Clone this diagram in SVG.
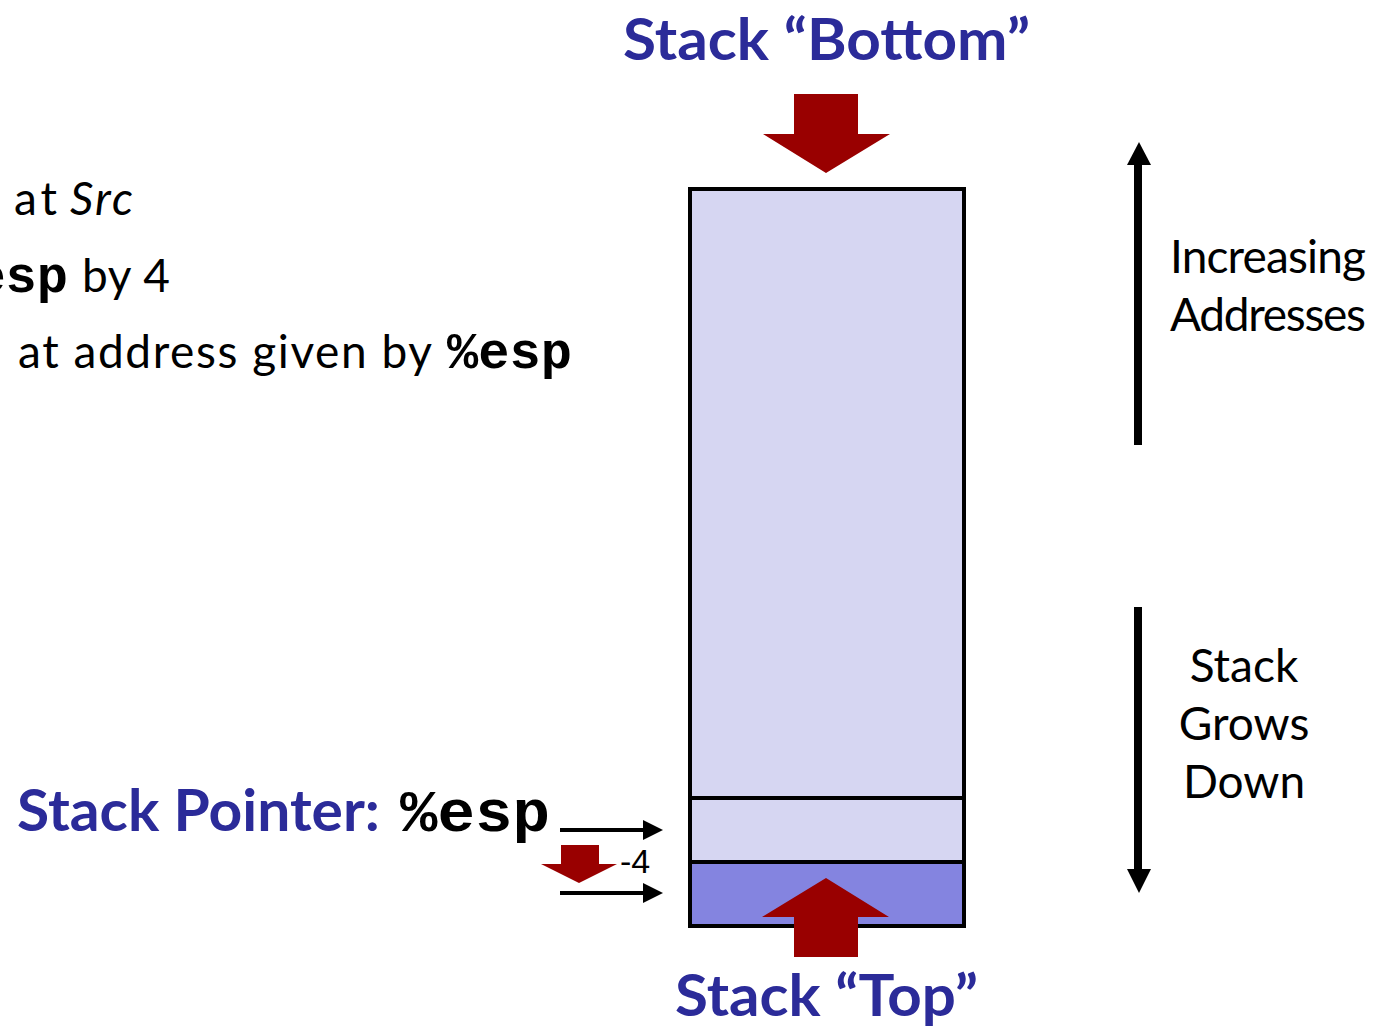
<svg xmlns="http://www.w3.org/2000/svg" width="1374" height="1026" viewBox="0 0 1374 1026">
  <defs>
    <style>
      .title { font-family: Lato, "Open Sans", "Liberation Sans", sans-serif; font-weight: bold; fill: #2b2b99; }
      .body { font-family: Lato, "Open Sans", "Liberation Sans", sans-serif; font-size: 46px; fill: #000; }
      .mono { font-family: "Liberation Mono", "Courier New", monospace; font-weight: bold; fill: #000; }
      .cell { stroke: #000; stroke-width: 4; }
      .red { fill: #990000; }
      .ptr { stroke: #000; stroke-width: 4; fill: none; marker-end: url(#ah); }
      .vline { stroke: #000; stroke-width: 8; fill: none; }
    </style>
    <marker id="ah" markerWidth="5" markerHeight="5" refX="2" refY="2.5" orient="auto" markerUnits="strokeWidth">
      <path d="M0,0 L5,2.5 L0,5 Z" fill="#000"/>
    </marker>
  </defs>
  <rect width="1374" height="1026" fill="#fff"/>

  <!-- left partial text -->
  <g id="left-text">
    <text class="body" x="14" y="215" textLength="43">at</text>
    <text class="body" x="70" y="215" font-style="italic" textLength="63">Src</text>
    <text class="mono" x="68" y="292" font-size="52" text-anchor="end">%esp</text>
    <text class="body" x="82" y="292" textLength="88">by 4</text>
    <text class="body" x="18" y="368" textLength="414">at address given by</text>
    <text class="mono" x="447" y="368" font-size="52" textLength="125">%esp</text>
  </g>

  <!-- stack -->
  <g id="stack-body">
    <rect class="cell" x="690" y="189" width="274" height="609" fill="#d6d6f2"/>
  </g>
  <g id="stack-slot">
    <rect class="cell" x="690" y="798" width="274" height="64" fill="#d6d6f2"/>
  </g>
  <g id="stack-top-slot">
    <rect class="cell" x="690" y="862" width="274" height="64" fill="#8484e0"/>
  </g>

  <!-- red block arrows -->
  <g id="bottom-arrow">
    <polygon class="red" points="794,94 858,94 858,134 890,134 826,173 763,134 794,134"/>
  </g>
  <g id="top-arrow">
    <polygon class="red" points="794,957 858,957 858,917 889,917 826,878 762,917 794,917"/>
  </g>
  <g id="dec-arrow">
    <polygon class="red" points="561,845 599,845 599,864 617,864 579,883 541,864 561,864"/>
    <text x="620" y="873" font-family="'Liberation Sans', Arial, sans-serif" font-size="34" fill="#000">-4</text>
  </g>

  <!-- titles -->
  <g id="title-bottom">
    <text class="title" x="623" y="60" font-size="58" textLength="407" lengthAdjust="spacingAndGlyphs">Stack “Bottom”</text>
  </g>
  <g id="title-top">
    <text class="title" x="675" y="1016" font-size="58" textLength="303" lengthAdjust="spacingAndGlyphs">Stack “Top”</text>
  </g>
  <g id="stack-pointer">
    <text class="title" x="17" y="831" font-size="57" textLength="363" lengthAdjust="spacingAndGlyphs">Stack Pointer:</text>
    <text class="mono" x="400" y="831" font-size="60" textLength="150" lengthAdjust="spacingAndGlyphs">%esp</text>
  </g>

  <!-- right labels -->
  <g id="label-increasing">
    <text class="body" x="1170" y="273" textLength="196">Increasing</text>
    <text class="body" x="1170" y="331" textLength="196">Addresses</text>
  </g>
  <g id="label-grows">
    <text class="body" x="1244" y="682" text-anchor="middle">Stack</text>
    <text class="body" x="1244" y="740" text-anchor="middle">Grows</text>
    <text class="body" x="1244" y="798" text-anchor="middle">Down</text>
  </g>

  <!-- connectors -->
  <g id="connectors">
    <line class="ptr" x1="560" y1="830" x2="651" y2="830"/>
    <line class="ptr" x1="560" y1="893" x2="651" y2="893"/>
    <line class="vline" x1="1138" y1="445" x2="1138" y2="162"/>
    <polygon points="1127,165 1151,165 1139,142" fill="#000"/>
    <line class="vline" x1="1138" y1="607" x2="1138" y2="872"/>
    <polygon points="1127,869 1151,869 1139,893" fill="#000"/>
  </g>
</svg>
